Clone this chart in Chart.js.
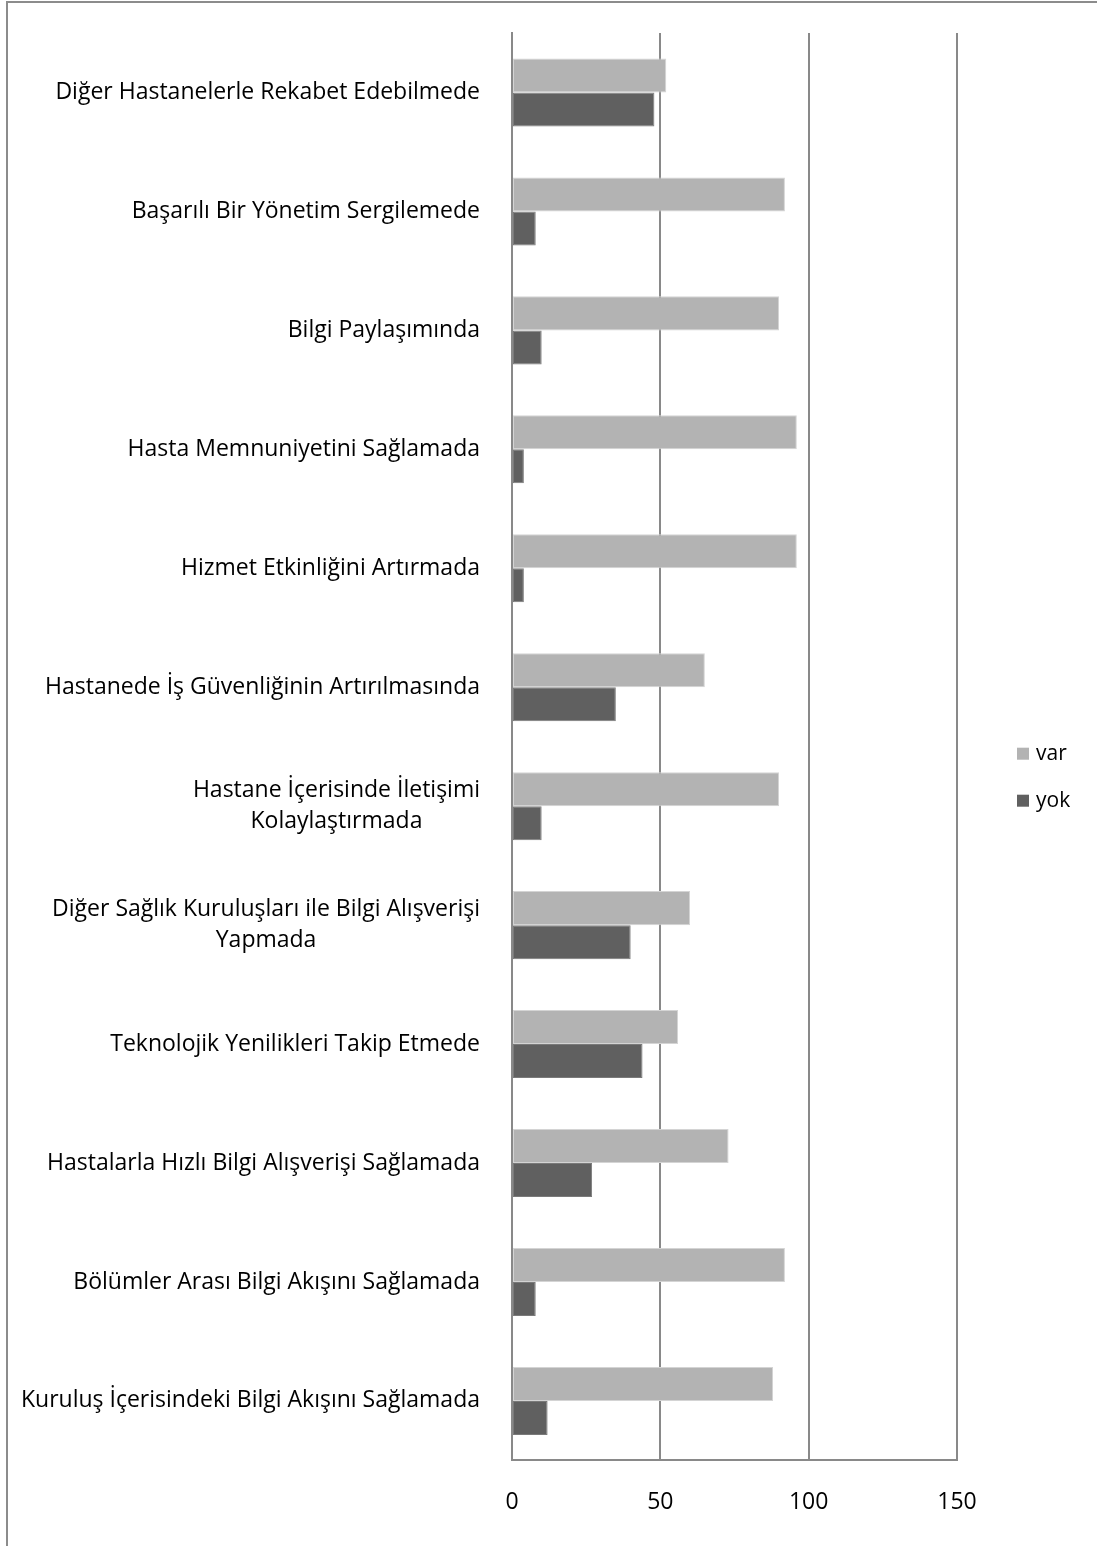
<!DOCTYPE html>
<html>
<head>
<meta charset="utf-8">
<script src="https://cdn.jsdelivr.net/npm/chart.js@4"></script>
<style>
  html, body { margin: 0; padding: 0; background: #fff; overflow: hidden; }
  #wrap { position: relative; width: 1097px; height: 1546px; overflow: hidden; }
  #frame { position: absolute; left: 6px; top: 1px; width: 1200px; height: 1700px; border-left: 2px solid #8c8c8c; border-top: 2px solid #8c8c8c; pointer-events: none; }
</style>
</head>
<body>
<div id="wrap">
  <canvas id="chart" width="1097" height="1546"></canvas>
  <div id="frame"></div>
</div>
<script>
'use strict';

const CATEGORIES = [
  ['Diğer Hastanelerle Rekabet Edebilmede'],
  ['Başarılı Bir Yönetim Sergilemede'],
  ['Bilgi Paylaşımında'],
  ['Hasta Memnuniyetini Sağlamada'],
  ['Hizmet Etkinliğini Artırmada'],
  ['Hastanede İş Güvenliğinin Artırılmasında'],
  ['Hastane İçerisinde İletişimi', 'Kolaylaştırmada'],
  ['Diğer Sağlık Kuruluşları ile Bilgi Alışverişi', 'Yapmada'],
  ['Teknolojik Yenilikleri Takip Etmede'],
  ['Hastalarla Hızlı Bilgi Alışverişi Sağlamada'],
  ['Bölümler Arası Bilgi Akışını Sağlamada'],
  ['Kuruluş İçerisindeki Bilgi Akışını Sağlamada']
];
const VAR_VALUES = [52, 92, 90, 96, 96, 65, 90, 60, 56, 73, 92, 88];
const YOK_VALUES = [48, 8, 10, 4, 4, 35, 10, 40, 44, 27, 8, 12];
const SERIES_NAMES = ['var', 'yok'];
const SERIES_COLORS = ['#b3b3b3', '#606060'];
const SERIES_EDGES = ['#d4d4d4', '#7a7a7a'];
const X_TICKS = [0, 50, 100, 150];

const FONT_FAMILY = '"Open Sans", "DejaVu Sans", sans-serif';
const FONT_SIZE = 23;
const LINE_H = 31;
const GRID_COLOR = '#898989';

// category labels: right-aligned block, lines centred inside it (Excel style)
const categoryLabels = {
  id: 'categoryLabels',
  afterDraw(chart) {
    const { ctx, chartArea, scales: { y } } = chart;
    const right = chartArea.left - 32;
    ctx.save();
    ctx.font = `${FONT_SIZE}px ${FONT_FAMILY}`;
    ctx.fillStyle = '#000';
    ctx.textBaseline = 'middle';
    ctx.textAlign = 'center';
    CATEGORIES.forEach((lines, i) => {
      const yc = y.getPixelForValue(i);
      const w = Math.max(...lines.map(l => ctx.measureText(l).width));
      const cx = right - w / 2;
      lines.forEach((line, k) => ctx.fillText(line, cx, yc + (k - (lines.length - 1) / 2) * LINE_H));
    });
    ctx.restore();
  }
};

// legend to the right of the plot
const sideLegend = {
  id: 'sideLegend',
  afterDraw(chart) {
    const { ctx, chartArea } = chart;
    const x = chartArea.right + 60;
    const y0 = (chartArea.top + chartArea.bottom) / 2 + 7;
    ctx.save();
    ctx.font = `${FONT_SIZE - 2}px ${FONT_FAMILY}`;
    ctx.textBaseline = 'middle';
    ctx.textAlign = 'left';
    chart.data.datasets.forEach((ds, i) => {
      const yc = y0 + i * 47;
      ctx.fillStyle = ds.backgroundColor;
      ctx.fillRect(x, yc - 6, 12, 12);
      ctx.fillStyle = '#000';
      ctx.fillText(ds.label, x + 19, yc);
    });
    ctx.restore();
  }
};

const datasets = [VAR_VALUES, YOK_VALUES].map((values, i) => ({
  label: SERIES_NAMES[i],
  data: values,
  backgroundColor: SERIES_COLORS[i],
  borderColor: SERIES_EDGES[i],
  borderWidth: 1,
  borderSkipped: false,
  categoryPercentage: 0.572,
  barPercentage: 1
}));

new Chart(document.getElementById('chart').getContext('2d'), {
  type: 'bar',
  data: { labels: CATEGORIES.map(l => l.join(' ')), datasets },
  plugins: [categoryLabels, sideLegend],
  options: {
    indexAxis: 'y',
    responsive: false,
    animation: false,
    devicePixelRatio: 1,
    layout: { padding: { top: 33, right: 140, bottom: 2, left: 512 } },
    plugins: { legend: { display: false }, tooltip: { enabled: false } },
    scales: {
      x: {
        min: 0,
        max: 150,
        afterBuildTicks: scale => { scale.ticks = X_TICKS.map(value => ({ value })); },
        grid: { color: GRID_COLOR, lineWidth: 2, drawTicks: false },
        border: { display: true, color: GRID_COLOR, width: 2 },
        ticks: { padding: 28, color: '#000', font: { family: FONT_FAMILY, size: FONT_SIZE } }
      },
      y: {
        grid: { display: false, drawTicks: false },
        border: { display: true, color: GRID_COLOR, width: 2 },
        ticks: { display: false }
      }
    }
  }
});
</script>
</body>
</html>
